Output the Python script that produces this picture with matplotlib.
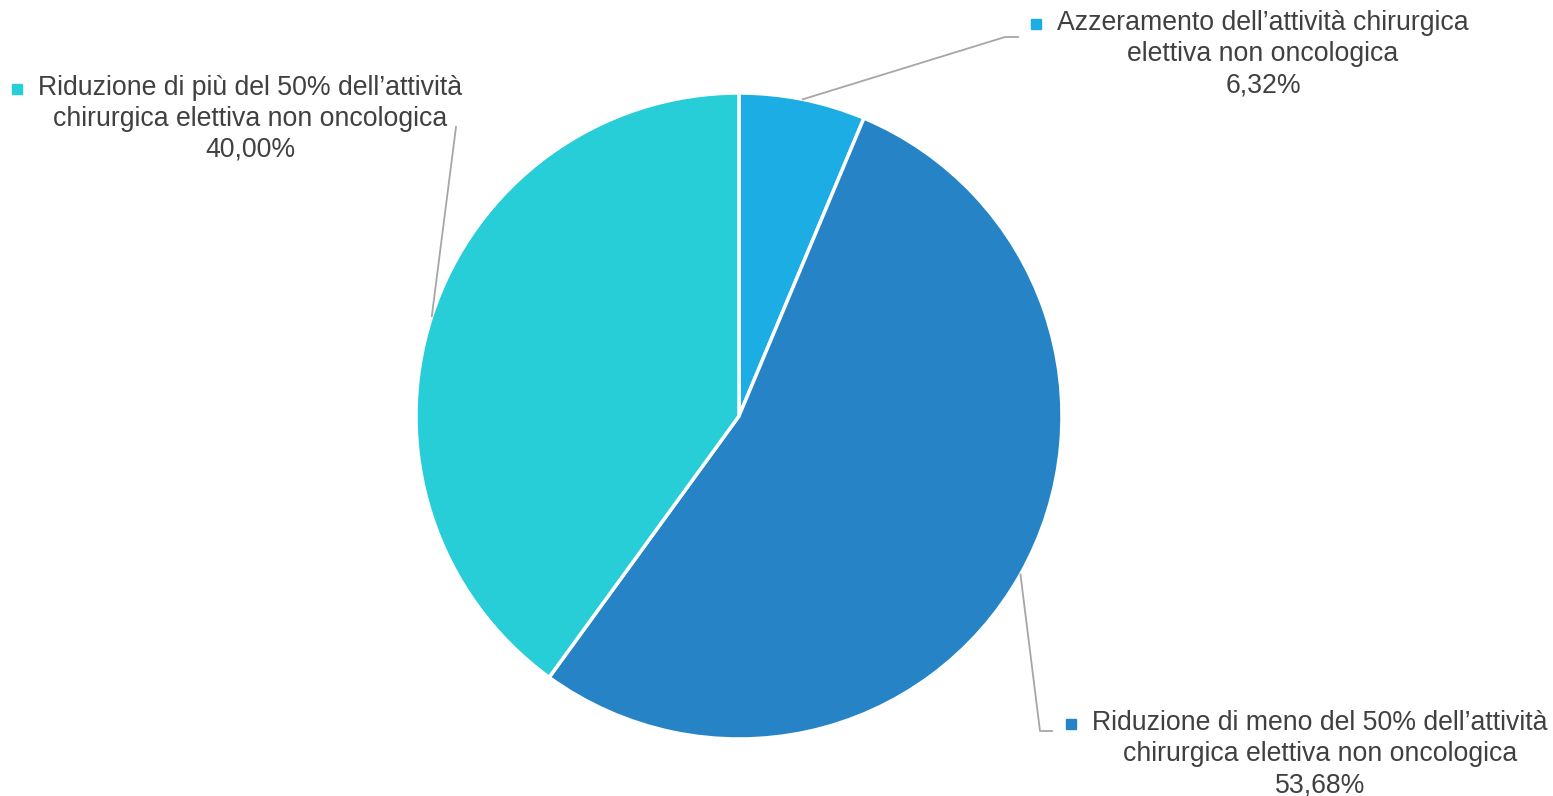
import numpy as np
import matplotlib
matplotlib.use('Agg')
import matplotlib.pyplot as plt

plt.rcParams['font.family'] = ['Liberation Sans', 'DejaVu Sans']

# data
labels = [['Azzeramento dell\u2019attivit\u00e0 chirurgica', 'elettiva non oncologica'],
          ['Riduzione di meno del 50% dell\u2019attivit\u00e0', 'chirurgica elettiva non oncologica'],
          ['Riduzione di pi\u00f9 del 50% dell\u2019attivit\u00e0', 'chirurgica elettiva non oncologica']]
values = [6.32, 53.68, 40.00]
colors = ['#1CADE4', '#2683C6', '#27CED7']

W, H = 1553, 796
fig = plt.figure(figsize=(W / 100, H / 100), dpi=100)

# pie axes placed in pixels: centre (739, 416), radius 323
cx, cy, r = 739, 416, 323
ax = fig.add_axes([(cx - r) / W, (H - cy - r) / H, 2 * r / W, 2 * r / H])
wedges, _ = ax.pie(values, colors=colors, startangle=90, counterclock=False,
                   wedgeprops=dict(edgecolor='white', linewidth=2.5))
ax.set_xlim(-1, 1)
ax.set_ylim(-1, 1)
ax.set_aspect('equal')
ax.axis('off')

# label layout in pixels (from top-left): text centre x, first line y, leader elbows
layout = [
    dict(xc=1263, y0=23, path=[(1005, 37), (1018, 37)]),
    dict(xc=1320, y0=723, path=[(1040, 731), (1052, 731)]),
    dict(xc=250, y0=88, path=[(456, 127)]),
]

def px(x, y):
    return x / W, (H - y) / H

text_col = '#404040'
fig.canvas.draw()
renderer = fig.canvas.get_renderer()
for w, lab, val, col, lay in zip(wedges, labels, values, colors, layout):
    ang = np.deg2rad((w.theta1 + w.theta2) / 2)
    ax_pt = ax.transData.transform((np.cos(ang), np.sin(ang)))
    fx, fy = fig.transFigure.inverted().transform(ax_pt)
    pts = [(fx, fy)] + [px(*p) for p in lay['path']]
    xs, ys = zip(*pts)
    fig.add_artist(plt.Line2D(xs, ys, color='#A6A6A6', lw=1.3, transform=fig.transFigure))

    lines = lab + [f'{val:.2f}'.replace('.', ',') + '%']
    for i, line in enumerate(lines):
        t = fig.text(*px(lay['xc'], lay['y0'] + 31 * i), line, ha='center', va='center',
                     fontsize=19.2, color=text_col)
        if i == 0:
            bb = t.get_window_extent(renderer)
            mx = bb.x0 - 21
            fig.add_artist(plt.Line2D([mx / W], [(H - lay['y0'] - 1) / H], marker='s',
                                      markersize=6.5, color=col, lw=0,
                                      transform=fig.transFigure))

fig.savefig('out.png', dpi=100, facecolor='white')
